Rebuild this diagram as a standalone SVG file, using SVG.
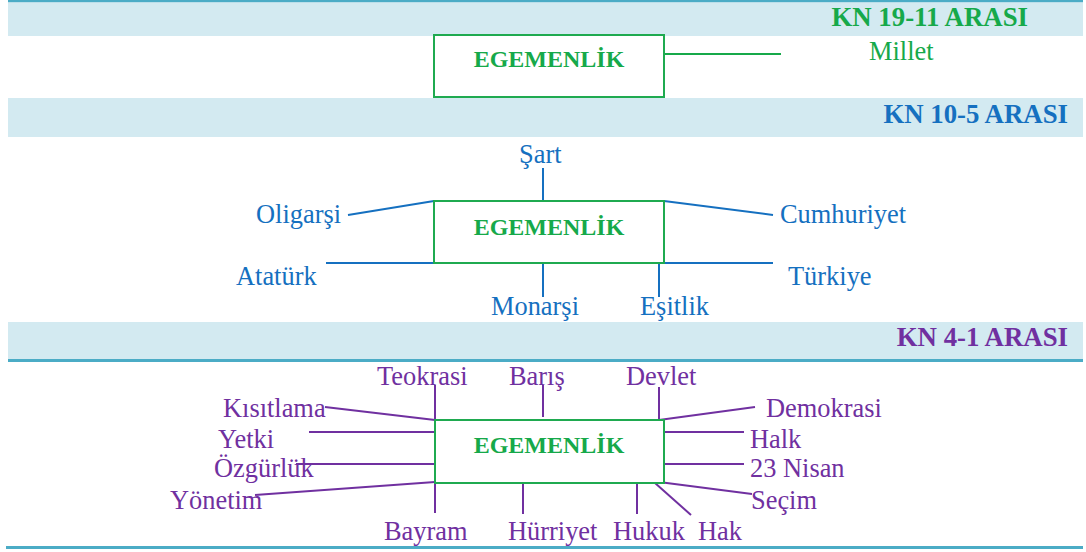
<svg xmlns="http://www.w3.org/2000/svg" width="1086" height="552" viewBox="0 0 1086 552">
<style>
.band{fill:#d3eaf1}
.rule{fill:#4bacc6}
.hdr{font-family:"Liberation Serif","Times New Roman",serif;font-weight:bold;font-size:26.8px;text-anchor:end}
.box{fill:#fff;stroke:#1faa50;stroke-width:2}
.boxt{font-family:"Liberation Serif","Times New Roman",serif;font-weight:bold;font-size:24px;fill:#16a94a;text-anchor:middle}
.lbl{font-family:"Liberation Serif","Times New Roman",serif;font-size:26.4px}
.g{fill:#16a94a}
.b{fill:#1570c0}
.p{fill:#7030a0}
.cg{stroke:#16a94a;stroke-width:2;fill:none}
.cb{stroke:#1570c0;stroke-width:2;fill:none}
.cp{stroke:#7030a0;stroke-width:2;fill:none}
</style>
<rect class="rule" x="8" y="0" width="1075" height="2.5"/>
<rect class="band" x="8" y="2.5" width="1075" height="33.5"/>
<rect class="band" x="8" y="98" width="1075" height="39"/>
<rect class="band" x="8" y="322" width="1075" height="37"/>
<rect class="rule" x="8" y="359" width="1075" height="3"/>
<rect class="rule" x="6" y="546" width="1077" height="3"/>
<text class="hdr g" x="1028" y="26">KN 19-11 ARASI</text>
<text class="hdr b" x="1068" y="123">KN 10-5 ARASI</text>
<text class="hdr p" x="1068" y="346">KN 4-1 ARASI</text>

<g id="connectors">
<line class="cg" x1="664" y1="54" x2="781" y2="54"/>
<line class="cb" x1="543" y1="168" x2="543" y2="201"/>
<line class="cb" x1="348" y1="215" x2="434" y2="201"/>
<line class="cb" x1="664" y1="201" x2="773" y2="215"/>
<line class="cb" x1="326" y1="263" x2="434" y2="263"/>
<line class="cb" x1="664" y1="263" x2="773" y2="263"/>
<line class="cb" x1="543" y1="263" x2="543" y2="297"/>
<line class="cb" x1="659" y1="263" x2="659" y2="297"/>
<line class="cp" x1="435" y1="385" x2="435" y2="420"/>
<line class="cp" x1="543" y1="385" x2="543" y2="417"/>
<line class="cp" x1="659" y1="387" x2="659" y2="420"/>
<line class="cp" x1="325" y1="407" x2="435" y2="420"/>
<line class="cp" x1="659" y1="420" x2="755" y2="407"/>
<line class="cp" x1="309" y1="432" x2="435" y2="432"/>
<line class="cp" x1="659" y1="432" x2="744" y2="432"/>
<line class="cp" x1="296" y1="464" x2="435" y2="464"/>
<line class="cp" x1="659" y1="464" x2="744" y2="464"/>
<line class="cp" x1="255" y1="495" x2="435" y2="482"/>
<line class="cp" x1="659" y1="482" x2="752" y2="494"/>
<line class="cp" x1="435" y1="483" x2="435" y2="513"/>
<line class="cp" x1="523" y1="483" x2="523" y2="514"/>
<line class="cp" x1="637" y1="483" x2="637" y2="514"/>
<line class="cp" x1="655" y1="483" x2="691" y2="515"/>
</g>

<g id="egemenlik1"><rect class="box" x="434" y="35" width="230" height="62"/><text class="boxt" x="549" y="67">EGEMENLİK</text></g>
<g id="millet"><text class="lbl g" x="869" y="60">Millet</text></g>

<g id="egemenlik2"><rect class="box" x="434" y="201" width="230" height="62"/><text class="boxt" x="549" y="235">EGEMENLİK</text></g>
<g id="sart"><text class="lbl b" x="519" y="163">Şart</text></g>
<g id="oligarsi"><text class="lbl b" x="256" y="223">Oligarşi</text></g>
<g id="cumhuriyet"><text class="lbl b" x="780" y="223">Cumhuriyet</text></g>
<g id="ataturk"><text class="lbl b" x="236" y="285">Atatürk</text></g>
<g id="turkiye"><text class="lbl b" x="788" y="285">Türkiye</text></g>
<g id="monarsi"><text class="lbl b" x="491" y="315">Monarşi</text></g>
<g id="esitlik"><text class="lbl b" x="640" y="315">Eşitlik</text></g>

<g id="egemenlik3"><rect class="box" x="435" y="420" width="229" height="63"/><text class="boxt" x="549" y="453">EGEMENLİK</text></g>
<g id="teokrasi"><text class="lbl p" x="377" y="385">Teokrasi</text></g>
<g id="baris"><text class="lbl p" x="509" y="385">Barış</text></g>
<g id="devlet"><text class="lbl p" x="626" y="385">Devlet</text></g>
<g id="kisitlama"><text class="lbl p" x="223" y="417">Kısıtlama</text></g>
<g id="demokrasi"><text class="lbl p" x="766" y="417">Demokrasi</text></g>
<g id="yetki"><text class="lbl p" x="218" y="448">Yetki</text></g>
<g id="halk"><text class="lbl p" x="750" y="448">Halk</text></g>
<g id="ozgurluk"><text class="lbl p" x="214" y="477">Özgürlük</text></g>
<g id="nisan"><text class="lbl p" x="750" y="477">23 Nisan</text></g>
<g id="yonetim"><text class="lbl p" x="170" y="509">Yönetim</text></g>
<g id="secim"><text class="lbl p" x="751" y="509">Seçim</text></g>
<g id="bayram"><text class="lbl p" x="384" y="540">Bayram</text></g>
<g id="hurriyet"><text class="lbl p" x="508" y="540">Hürriyet</text></g>
<g id="hukuk"><text class="lbl p" x="613" y="540">Hukuk</text></g>
<g id="hak"><text class="lbl p" x="698" y="540">Hak</text></g>
</svg>
